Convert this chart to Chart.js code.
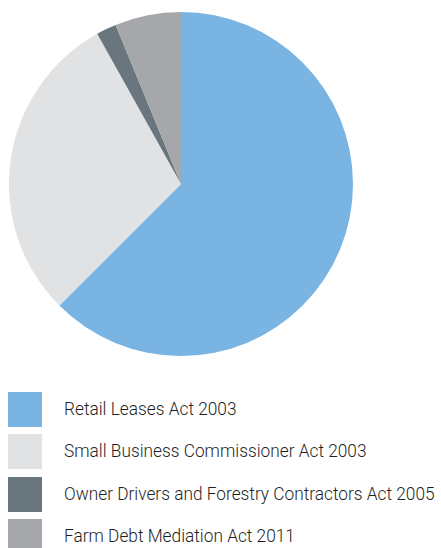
<!DOCTYPE html>
<html>
<head>
<meta charset="utf-8">
<script src="https://cdn.jsdelivr.net/npm/chart.js@4"></script>
<style>
  html, body { margin: 0; padding: 0; background: #fff; }
  body { width: 441px; height: 548px; position: relative; overflow: hidden; }
  #pieWrap { position: absolute; left: 9px; top: 12px; width: 344px; height: 344px; }
  #legend { position: absolute; left: 8px; top: 392px; margin: 0; padding: 0; list-style: none; }
  #legend li { height: 35px; margin-bottom: 7.3px; position: relative; }
  #legend .box { position: absolute; left: 0; top: 0; width: 34px; height: 35px; }
  #legend .txt {
    position: absolute; left: 56px; top: 6px; white-space: nowrap;
    font: 300 18px Roboto, sans-serif; color: #1f1f1f;
    transform: scaleX(0.96); transform-origin: left center;
  }
</style>
</head>
<body>
<div id="pieWrap"><canvas id="acts"></canvas></div>
<ul id="legend"></ul>
<script>
// share of disputes by act (%)
var actLabels = [
    'Retail Leases Act 2003',
    'Small Business Commissioner Act 2003',
    'Owner Drivers and Forestry Contractors Act 2005',
    'Farm Debt Mediation Act 2011'
];
var actShares = [62.5, 29.4, 1.9, 6.2];
var actColors = ['#7ab4e2', '#e1e2e4', '#6a767d', '#a6a7ab'];

var pieChart;

function buildPie() {
    let ctx = document.getElementById('acts').getContext('2d');

    pieChart = new Chart(ctx, {
        type: 'pie',
        data: {
            labels: actLabels,
            datasets: [{
                data: actShares,
                backgroundColor: actColors,
                borderWidth: 0
            }]
        },
        options: {
            responsive: true,
            maintainAspectRatio: false,
            animation: false,
            layout: { padding: 0 },
            plugins: {
                legend: { display: false },
                tooltip: { enabled: false }
            }
        }
    });
}

function buildLegend() {
    let list = document.getElementById('legend');
    pieChart.data.labels.forEach((label, i) => {
        let li = document.createElement('li');
        let box = document.createElement('span');
        box.className = 'box';
        box.style.background = pieChart.data.datasets[0].backgroundColor[i];
        let txt = document.createElement('span');
        txt.className = 'txt';
        txt.textContent = label;
        li.appendChild(box);
        li.appendChild(txt);
        list.appendChild(li);
    });
}

buildPie();
buildLegend();
</script>
</body>
</html>
